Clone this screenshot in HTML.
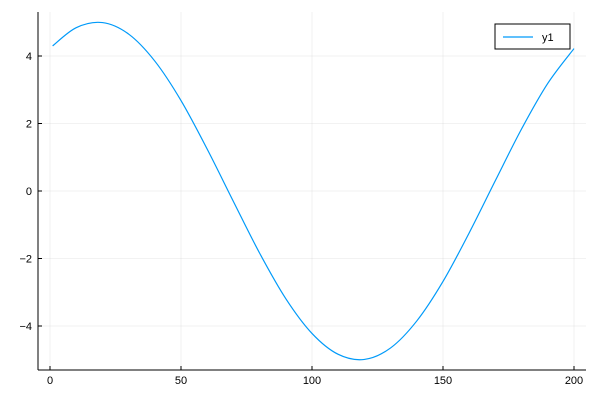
<!DOCTYPE html>
<html><head><meta charset="utf-8"><style>
html,body{margin:0;padding:0;background:#fff;}
svg text{font-family:"Liberation Sans","DejaVu Sans",sans-serif;}
</style></head><body>
<svg id="chart" width="600" height="400" xmlns="http://www.w3.org/2000/svg"></svg>
<script>
const xs=[1,10,20,30,40,50,60,70,80,90,100,110,120,130,140,150,160,170,180,190,200];
const ys=[4.30,4.84,4.99,4.65,3.85,2.68,1.24,-0.31,-1.84,-3.19,-4.22,-4.84,-4.99,-4.65,-3.85,-2.68,-1.24,0.31,1.84,3.19,4.22];
const xTicks=[0,50,100,150,200];
const yTicks=[-4,-2,0,2,4];
const seriesName="y1";

const NS="http://www.w3.org/2000/svg";
const svg=document.getElementById('chart');
const L=38,R=586,T=12,B=370;
function sx(v){return 50+v*2.62;}
function sy(v){return 191-v*33.75;}
function mk(tag,attrs,parent){const e=document.createElementNS(NS,tag);for(const k in attrs)e.setAttribute(k,attrs[k]);(parent||svg).appendChild(e);return e;}

const grid=mk('g',{});


xTicks.forEach(t=>{
  const l=mk('line',{x1:sx(t),x2:sx(t),y1:T,y2:B,stroke:'#000','stroke-opacity':0.1,'stroke-width':0.5},grid);
  
  
  const tx=mk('text',{x:sx(t),y:B+14,'font-size':11,'text-anchor':'middle',fill:'#000'});
  tx.textContent=t;
  
  
  const tk=mk('line',{x1:sx(t),x2:sx(t),y1:B,y2:B-4,stroke:'#000','stroke-width':1});
  
  
});
yTicks.forEach(t=>{
  const l=mk('line',{x1:L,x2:R,y1:sy(t),y2:sy(t),stroke:'#000','stroke-opacity':0.1,'stroke-width':0.5},grid);
  
  
  const tx=mk('text',{x:L-6,y:sy(t)+4,'font-size':11,'text-anchor':'end',fill:'#000'});
  tx.textContent=(t<0?'\u2212'+(-t):t);
  
  
  const tk=mk('line',{x1:L,x2:L+4,y1:sy(t),y2:sy(t),stroke:'#000','stroke-width':1});
  
  
});
const xa=mk('line',{x1:L,x2:R,y1:B,y2:B,stroke:'#000','stroke-width':1});


const ya=mk('line',{x1:L,x2:L,y1:T,y2:B,stroke:'#000','stroke-width':1});



const P=xs.map((x,i)=>[sx(x),sy(ys[i])]);
let d='M'+P[0][0]+','+P[0][1];
for(let i=0;i<P.length-1;i++){
  const p0=P[Math.max(0,i-1)],p1=P[i],p2=P[i+1],p3=P[Math.min(P.length-1,i+2)];
  const c1=[p1[0]+(p2[0]-p0[0])/6,p1[1]+(p2[1]-p0[1])/6];
  const c2=[p2[0]-(p3[0]-p1[0])/6,p2[1]-(p3[1]-p1[1])/6];
  d+=' C'+c1[0]+','+c1[1]+' '+c2[0]+','+c2[1]+' '+p2[0]+','+p2[1];
}
const line=mk('path',{d:d,fill:'none',stroke:'#009af9','stroke-width':1.2});



const lg=mk('g',{});


mk('rect',{x:495,y:24,width:75,height:25,fill:'#fff',stroke:'#000','stroke-width':1},lg);
const ll=mk('line',{x1:503,x2:533,y1:37,y2:37,stroke:'#009af9','stroke-width':1.2},lg);


const lt=mk('text',{x:542,y:41,'font-size':11,fill:'#000'},lg);
lt.textContent=seriesName;


</script>
</body></html>
